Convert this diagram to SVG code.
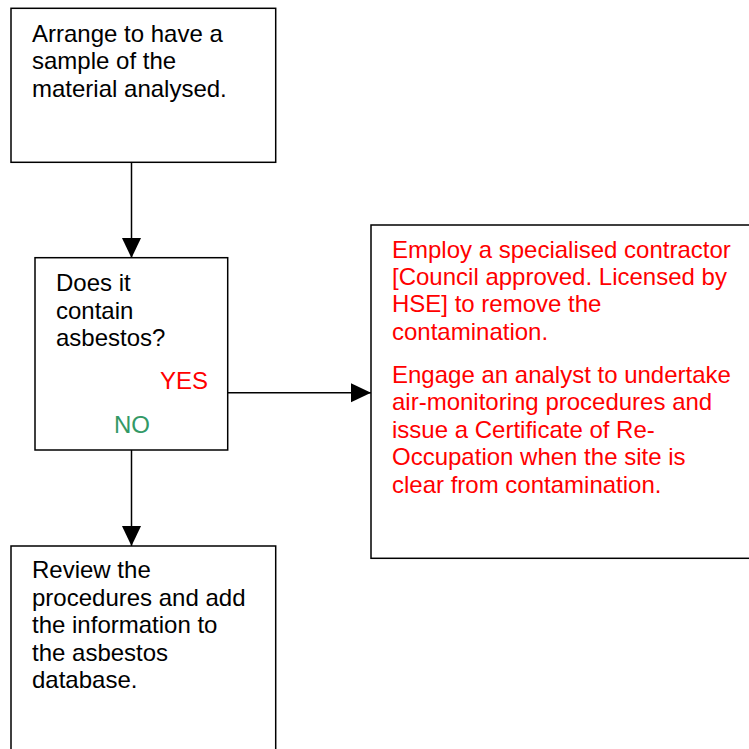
<svg xmlns="http://www.w3.org/2000/svg" width="749" height="749" viewBox="0 0 749 749">
<style>
.box{fill:#fff;stroke:#000;stroke-width:1.5}
.t{font-family:"Liberation Sans",Arial,sans-serif;font-size:24px;fill:#000}
.r{fill:#ff0000}
.g{fill:#339966}
.ln{stroke:#000;stroke-width:1.5;fill:none}
</style>
<defs>
<marker id="ah" markerWidth="20" markerHeight="21" viewBox="0 0 21 20" refX="21" refY="10" orient="auto" markerUnits="userSpaceOnUse">
<path d="M0,0 L21,10 L0,20 Z" fill="#000"/>
</marker>
</defs>
<rect width="749" height="749" fill="#fff"/>
<g id="connectors">
<line class="ln" x1="131.5" y1="162" x2="131.5" y2="258" marker-end="url(#ah)"/>
<line class="ln" x1="228" y1="392.7" x2="371" y2="392.7" marker-end="url(#ah)"/>
<line class="ln" x1="131.5" y1="450" x2="131.5" y2="546" marker-end="url(#ah)"/>
</g>
<g id="node-sample">
<rect class="box" x="11" y="8.3" width="264.7" height="154"/>
<text class="t"><tspan x="32" y="41.7">Arrange to have a</tspan><tspan x="32" y="69.2">sample of the</tspan><tspan x="32" y="96.7">material analysed.</tspan></text>
</g>
<g id="node-decision">
<rect class="box" x="35" y="257.7" width="192.7" height="192.3"/>
<text class="t"><tspan x="56" y="290.7">Does it</tspan><tspan x="56" y="318.5">contain</tspan><tspan x="56" y="346.2">asbestos?</tspan></text>
<text class="t r" x="160" y="389.3">YES</text>
<text class="t g" x="114" y="432.7">NO</text>
</g>
<g id="node-contractor">
<rect class="box" x="371" y="225" width="390" height="333.3"/>
<text class="t r"><tspan x="392" y="257.7">Employ a specialised contractor</tspan><tspan x="392" y="285">[Council approved. Licensed by</tspan><tspan x="392" y="312.3">HSE] to remove the</tspan><tspan x="392" y="339.6">contamination.</tspan></text>
<text class="t r"><tspan x="392" y="382.7">Engage an analyst to undertake</tspan><tspan x="392" y="410.2">air-monitoring procedures and</tspan><tspan x="392" y="437.7">issue a Certificate of Re-</tspan><tspan x="392" y="465.2">Occupation when the site is</tspan><tspan x="392" y="492.7">clear from contamination.</tspan></text>
</g>
<g id="node-review">
<rect class="box" x="11" y="546" width="264.7" height="220"/>
<text class="t"><tspan x="32" y="578.3">Review the</tspan><tspan x="32" y="605.7">procedures and add</tspan><tspan x="32" y="633">the information to</tspan><tspan x="32" y="660.5">the asbestos</tspan><tspan x="32" y="688.3">database.</tspan></text>
</g>
</svg>
